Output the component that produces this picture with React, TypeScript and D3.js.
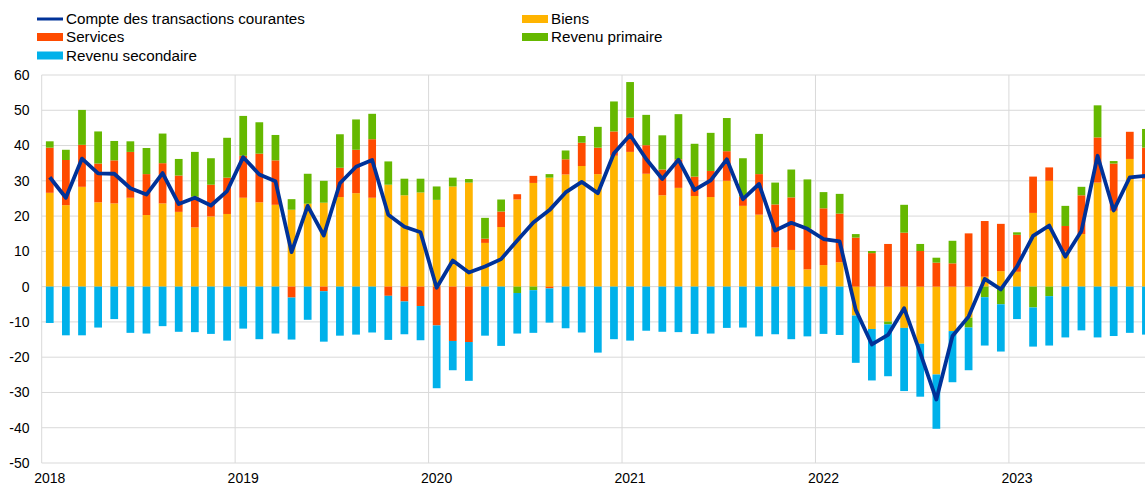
import React, { useRef, useEffect } from "react";
import * as d3 from "d3";

// monthly data, Jan 2018 - Sep 2023 (EUR bn)
const years = ["2018", "2019", "2020", "2021", "2022", "2023"];
const months: string[] = years
  .flatMap(y => d3.range(1, 13).map(m => `${y}-${String(m).padStart(2, "0")}`))
  .slice(0, 69);

const biens = [
  26.6, 23.1, 28.3, 23.9, 23.6, 25.2, 20.3, 23.6, 21.2, 16.8, 19.9, 20.6,
  25.2, 23.9, 23.2, 21.8, 23.5, 23.8, 25.4, 26.5, 25.2, 28.9, 25.9, 26.7,
  24.6, 28.4, 29.5, 12.4, 16.9, 24.7, 29.4, 30.9, 31.8, 34.2, 31.9, 37.1,
  38.2, 32.0, 25.9, 28.0, 25.7, 25.4, 30.0, 22.9, 20.4, 11.1, 10.4, 4.9,
  6.1, 6.9, -8.2, -12.0, -9.9, -11.7, -16.2, -24.9, -12.6, -8.8, 2.8, 4.4,
  4.2, 20.9, 30.0, 10.0, 14.9, 29.5, 21.5, 36.2, 30.4,
];
const services = [
  12.8, 12.8, 11.9, 11.0, 12.2, 13.0, 11.6, 11.4, 10.3, 8.7, 9.0, 10.3,
  11.9, 13.8, 12.6, -3.1, 0.0, -1.3, 8.3, 12.3, 16.6, -2.6, -4.2, -5.5,
  -11.0, -15.4, -15.7, 1.2, 4.4, 1.5, 2.0, -0.5, 4.3, 6.6, 7.5, 6.9,
  9.7, 8.1, 7.3, 8.1, 5.5, 7.4, 8.4, 2.6, 11.5, 12.2, 14.9, 11.6,
  16.1, 13.8, 13.9, 9.5, 12.1, 15.3, 10.1, 6.8, 6.6, 15.1, 15.8, 13.4,
  10.5, 10.3, 3.8, 7.2, 11.0, 12.8, 13.4, 7.7, 9.0,
];
const revenuPrimaire = [
  1.8, 2.9, 9.9, 9.1, 5.5, 3.0, 7.4, 8.4, 4.7, 12.7, 7.5, 11.3,
  11.3, 8.9, 7.2, 3.0, 8.5, 6.2, 9.5, 8.6, 7.2, 6.6, 4.7, 3.9,
  3.8, 2.5, 1.0, 5.9, 3.4, -1.8, -1.0, 1.0, 2.5, 1.9, 5.9, 8.5,
  10.1, 8.6, 9.7, 12.8, 9.3, 10.8, 9.4, 10.9, 11.4, 6.2, 7.9, 13.9,
  4.6, 5.6, 1.0, 0.6, -0.8, 7.9, 2.0, 1.4, 6.4, -2.8, -3.0, -5.0,
  0.7, -5.9, -2.7, 5.7, 2.4, 9.1, 0.7, 0.0, 5.3,
];
const revenuSecondaire = [
  -10.3, -13.8, -13.8, -11.6, -9.2, -13.1, -13.3, -11.2, -12.8, -12.9, -13.4, -15.3,
  -11.9, -14.9, -13.3, -11.9, -9.4, -14.3, -13.9, -13.6, -13.0, -12.5, -9.3, -9.7,
  -17.8, -8.3, -11.0, -13.9, -16.8, -11.5, -12.1, -9.7, -11.8, -13.0, -18.7, -14.9,
  -15.3, -12.5, -12.8, -12.9, -13.4, -13.3, -11.7, -11.6, -14.1, -13.5, -14.9, -14.1,
  -13.4, -13.7, -13.4, -14.6, -14.7, -17.9, -15.0, -15.4, -14.5, -12.1, -13.7, -13.4,
  -9.2, -11.1, -14.0, -14.4, -12.4, -14.4, -14.0, -13.1, -13.6,
];
const compteCourant = [
  31.0, 25.2, 36.3, 32.1, 32.0, 27.9, 26.1, 32.2, 23.4, 25.2, 23.0, 27.1,
  36.7, 31.8, 29.9, 9.8, 22.9, 14.5, 29.3, 34.0, 35.9, 20.4, 17.0, 15.4,
  -0.3, 7.4, 4.0, 5.7, 7.8, 13.1, 18.2, 21.7, 26.7, 29.7, 26.5, 37.8,
  43.0, 36.2, 30.5, 36.0, 27.4, 30.1, 36.1, 24.8, 29.1, 15.9, 18.1, 16.4,
  13.5, 12.8, -6.6, -16.4, -13.7, -6.1, -18.8, -32.0, -14.0, -8.5, 2.2, -0.8,
  5.7, 14.4, 17.3, 8.5, 15.8, 37.1, 21.6, 31.0, 31.4,
];
const yTicks = [-50, -40, -30, -20, -10, 0, 10, 20, 30, 40, 50, 60];

const keys = ["biens", "services", "primaire", "secondaire"];
const colors: Record<string, string> = {
  biens: "#FFB400",
  services: "#FF4B00",
  primaire: "#65B800",
  secondaire: "#00B1EA",
};
const lineColor = "#003299";

const App = () => {
  const container = useRef<SVGSVGElement>(null);

  const width = 1145;
  const height = 485;
  const left = 41.7;
  const step = 16.12;

  useEffect(() => {
    const svg = d3.select(container.current);
    svg.selectAll("*").remove();

    const data = months.map((m, i) => ({
      month: m,
      biens: biens[i],
      services: services[i],
      primaire: revenuPrimaire[i],
      secondaire: revenuSecondaire[i],
      total: compteCourant[i],
    }));

    const xScale = d3
      .scaleBand()
      .domain(months)
      .range([left, left + step * months.length])
      .paddingInner(0.52)
      .paddingOuter(0.26);

    const yScale = d3.scaleLinear().domain([-50, 60]).range([463, 75]);

    const font = "'Liberation Sans', Arial, sans-serif";

    // horizontal gridlines
    svg
      .append("g")
      .selectAll("line")
      .data(yTicks)
      .enter()
      .append("line")
      .attr("x1", left)
      .attr("x2", width)
      .attr("y1", d => yScale(d))
      .attr("y2", d => yScale(d))
      .attr("stroke", "#d9d9d9")
      .attr("stroke-width", 1);

    // vertical year lines
    const offset = (xScale.step() - xScale.bandwidth()) / 2;
    svg
      .append("g")
      .selectAll("line")
      .data(years)
      .enter()
      .append("line")
      .attr("x1", d => (xScale(`${d}-01`) as number) - offset)
      .attr("x2", d => (xScale(`${d}-01`) as number) - offset)
      .attr("y1", yScale(60))
      .attr("y2", yScale(-50))
      .attr("stroke", "#d9d9d9")
      .attr("stroke-width", 1);

    // stacked bars (positive and negative stacked apart)
    const stackedData = d3
      .stack<any>()
      .keys(keys)
      .offset(d3.stackOffsetDiverging)(data);

    svg
      .append("g")
      .selectAll("g")
      .data(stackedData)
      .enter()
      .append("g")
      .attr("fill", d => colors[d.key])
      .selectAll("rect")
      .data(d => d)
      .enter()
      .append("rect")
      .attr("x", d => xScale(d.data.month) as number)
      .attr("y", d => yScale(Math.max(d[0], d[1])))
      .attr("height", d => Math.abs(yScale(d[0]) - yScale(d[1])))
      .attr("width", xScale.bandwidth());

    // current account line
    const line = d3
      .line<any>()
      .x(d => (xScale(d.month) as number) + xScale.bandwidth() / 2)
      .y(d => yScale(d.total));

    svg
      .append("path")
      .datum(data)
      .attr("d", line)
      .attr("fill", "none")
      .attr("stroke", lineColor)
      .attr("stroke-width", 3.8)
      .attr("stroke-linejoin", "round");

    // y axis labels
    svg
      .append("g")
      .selectAll("text")
      .data(yTicks)
      .enter()
      .append("text")
      .attr("x", 29.5)
      .attr("y", d => yScale(d))
      .attr("dy", "0.35em")
      .attr("text-anchor", "end")
      .style("font-family", font)
      .style("font-size", "14px")
      .style("fill", "#000")
      .text(d => d);

    // x axis labels
    svg
      .append("g")
      .selectAll("text")
      .data(years)
      .enter()
      .append("text")
      .attr("x", d => (xScale(`${d}-01`) as number) + xScale.bandwidth() / 2)
      .attr("y", 483)
      .attr("text-anchor", "middle")
      .style("font-family", font)
      .style("font-size", "14px")
      .style("fill", "#000")
      .text(d => d);

    // legend
    const legendItems = [
      { label: "Compte des transactions courantes", key: "line", x: 37, y: 19 },
      { label: "Biens", key: "biens", x: 522, y: 19 },
      { label: "Services", key: "services", x: 37, y: 37 },
      { label: "Revenu primaire", key: "primaire", x: 522, y: 37 },
      { label: "Revenu secondaire", key: "secondaire", x: 37, y: 55.5 },
    ];

    const legend = svg.append("g");
    legendItems.forEach(item => {
      if (item.key === "line") {
        legend
          .append("line")
          .attr("x1", item.x)
          .attr("x2", item.x + 26)
          .attr("y1", item.y)
          .attr("y2", item.y)
          .attr("stroke", lineColor)
          .attr("stroke-width", 3);
      } else {
        legend
          .append("rect")
          .attr("x", item.x)
          .attr("y", item.y - 4)
          .attr("width", 26)
          .attr("height", 8)
          .attr("fill", colors[item.key]);
      }
      legend
        .append("text")
        .attr("x", item.x + 29)
        .attr("y", item.y)
        .attr("dy", "0.35em")
        .style("font-family", font)
        .style("font-size", "15.2px")
        .style("fill", "#000")
        .text(item.label);
    });
  }, []);

  return (
    <div style={{ position: "absolute", top: 0, left: 0, width: width, height: height }}>
      <svg ref={container} width={width} height={height} style={{ display: "block", overflow: "hidden" }} />
    </div>
  );
};

export default App;
